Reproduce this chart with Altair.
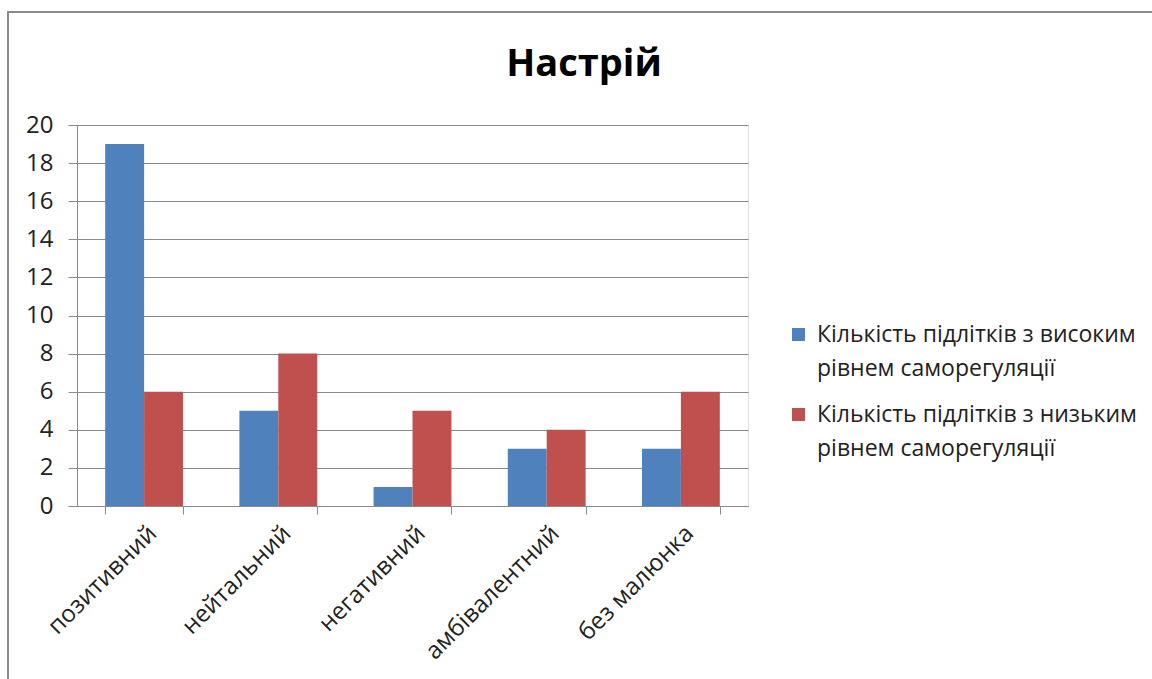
import altair as alt
import pandas as pd

categories = ["позитивний", "нейтальний", "негативний", "амбівалентний", "без малюнка"]
series_names = [
    "Кількість підлітків з високим рівнем саморегуляції",
    "Кількість підлітків з низьким рівнем саморегуляції",
]
high_values = [19, 5, 1, 3, 3]
low_values = [6, 8, 5, 4, 6]
y_ticks = [0, 2, 4, 6, 8, 10, 12, 14, 16, 18, 20]
colors = ["#4F81BD", "#C0504D"]
chart_title = "Настрій"

rows = []
for cat, hv, lv in zip(categories, high_values, low_values):
    rows.append({"category": cat, "series": series_names[0], "value": hv})
    rows.append({"category": cat, "series": series_names[1], "value": lv})
df = pd.DataFrame(rows)

FONT = "Open Sans"
W, H = 671, 381
LEFT, TOP = 77, 125

# outer frame around the whole chart
frame = alt.Chart(pd.DataFrame({"a": [0]})).mark_rect(
    fill=None, stroke="#8a8a8a", strokeWidth=2
).encode(
    x=alt.value(8 - LEFT),
    x2=alt.value(1152 - LEFT + 20),
    y=alt.value(12 - TOP),
    y2=alt.value(679 - TOP + 20),
)

# chart heading, centred over the whole frame
heading = alt.Chart(pd.DataFrame({"t": [chart_title]})).mark_text(
    font=FONT, fontSize=38, fontWeight="bold", color="#000000",
    align="center", baseline="middle",
).encode(
    text="t:N",
    x=alt.value(584 - LEFT),
    y=alt.value(65 - TOP),
)

bars = alt.Chart(df).mark_bar().encode(
    x=alt.X(
        "category:N",
        sort=categories,
        scale=alt.Scale(paddingInner=0.42, paddingOuter=0.21),
        axis=alt.Axis(
            title=None,
            labelAngle=-45,
            labelAlign="right",
            labelBaseline="top",
            labelFont=FONT,
            labelFontSize=24,
            labelColor="#222222",
            labelPadding=7,
            labelOffset=0,
            labelLimit=300,
            tickBand="extent",
            tickSize=8,
            tickColor="#8a8a8a",
            domainColor="#8a8a8a",
            grid=False,
        ),
    ),
    xOffset=alt.XOffset("series:N", sort=series_names),
    y=alt.Y(
        "value:Q",
        scale=alt.Scale(domain=[0, 20], nice=False),
        axis=alt.Axis(
            title=None,
            values=y_ticks,
            labelFont=FONT,
            labelFontSize=24,
            labelColor="#222222",
            labelPadding=15,
            tickSize=9,
            tickColor="#8a8a8a",
            domainColor="#8a8a8a",
            gridColor="#8a8a8a",
            gridWidth=1,
        ),
    ),
    color=alt.Color(
        "series:N",
        sort=series_names,
        scale=alt.Scale(domain=series_names, range=colors),
        legend=alt.Legend(
            title=None,
            orient="none",
            legendX=710,
            legendY=198,
            padding=0,
            symbolType="square",
            symbolSize=169,
            symbolStrokeWidth=0,
            labelFont=FONT,
            labelFontSize=23,
            labelColor="#222222",
            labelLimit=500,
            labelOffset=7,
            rowPadding=22,
            labelExpr="[substring(datum.label, 0, indexof(datum.label, ' рівнем')), substring(datum.label, indexof(datum.label, ' рівнем') + 1)]",
        ),
    ),
)

chart = alt.layer(frame, heading, bars).properties(
    width=W,
    height=H,
    padding={"left": LEFT, "top": TOP, "right": 1152 - LEFT - W, "bottom": 679 - TOP - H},
    autosize=alt.AutoSizeParams(type="none"),
).configure_view(stroke=None).configure(
    style={"guide-label": {"lineHeight": 34}}
)

chart.save("out.html", embed_options={"renderer": "svg", "actions": False})
